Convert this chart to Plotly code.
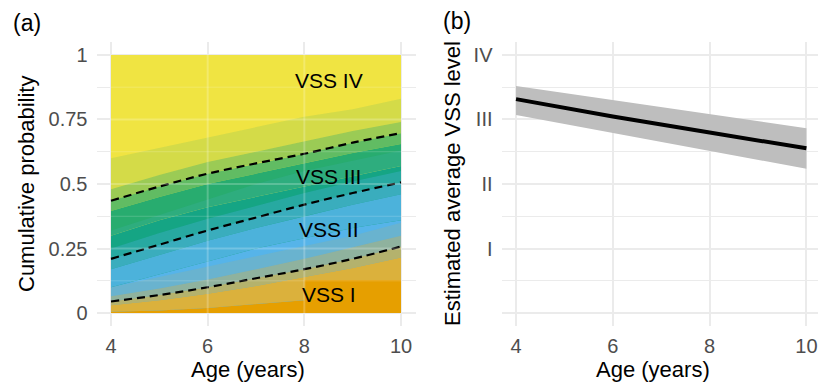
import plotly.graph_objects as go

# ---------------- data ----------------
AGES = [4, 5, 6, 7, 8, 9, 10]

# boundary VSS I | VSS II (cumulative probability), posterior spread
B1_LO = [0.005, 0.01, 0.02, 0.035, 0.05, 0.07, 0.10]
B1_Q25 = [0.03, 0.05, 0.075, 0.105, 0.14, 0.175, 0.215]
B1_MED = [0.045, 0.07, 0.10, 0.135, 0.17, 0.21, 0.258]
B1_Q75 = [0.065, 0.095, 0.13, 0.17, 0.21, 0.255, 0.30]
B1_HI = [0.10, 0.14, 0.18, 0.22, 0.26, 0.30, 0.35]

# boundary VSS II | VSS III
B2_LO = [0.10, 0.15, 0.20, 0.25, 0.29, 0.33, 0.36]
B2_Q25 = [0.17, 0.225, 0.28, 0.33, 0.375, 0.42, 0.46]
B2_MED = [0.21, 0.265, 0.32, 0.37, 0.42, 0.465, 0.506]
B2_Q75 = [0.25, 0.31, 0.365, 0.415, 0.465, 0.51, 0.55]
B2_HI = [0.32, 0.38, 0.44, 0.50, 0.55, 0.59, 0.63]

# boundary VSS III | VSS IV
B3_LO = [0.30, 0.36, 0.41, 0.45, 0.49, 0.53, 0.57]
B3_Q25 = [0.395, 0.45, 0.50, 0.54, 0.58, 0.62, 0.655]
B3_MED = [0.435, 0.49, 0.54, 0.58, 0.617, 0.66, 0.697]
B3_Q75 = [0.48, 0.535, 0.585, 0.625, 0.665, 0.705, 0.74]
B3_HI = [0.60, 0.64, 0.68, 0.72, 0.76, 0.79, 0.83]

# VSS I highlighted block
BLOCK_X = [8, 10]
BLOCK_TOP = 0.128

# category labels in panel (a)
LABEL_TEXT = ["VSS IV", "VSS III", "VSS II", "VSS I"]
LABEL_X = [8.5, 8.5, 8.5, 8.5]
LABEL_Y = [0.90, 0.528, 0.323, 0.071]

# panel (b): estimated average VSS level
AGE_B = [4, 6, 8, 10]
AVG_MEAN = [3.315, 3.046, 2.797, 2.553]
AVG_UPPER = [3.52, 3.30, 3.08, 2.864]
AVG_LOWER = [3.07, 2.795, 2.51, 2.236]

# ticks
A_XTICKS = [4, 6, 8, 10]
A_YTICKS = [0, 0.25, 0.5, 0.75, 1]
A_YTICKTEXT = ["0", "0.25", "0.5", "0.75", "1"]
A_YMINOR = [0.125, 0.375, 0.625, 0.875]
B_YTICKS = [0, 1, 2, 3, 4]
B_YTICKTEXT = ["", "I", "II", "III", "IV"]
B_YMINOR = [0.5, 1.5, 2.5, 3.5]

# ---------------- style ----------------
ORANGE = (230, 159, 0)
ORANGE_FUZZ = (238, 176, 34)
BLUE = (86, 180, 233)
GREEN = (12, 163, 118)
YELLOW = (240, 228, 66)
FONT = "Liberation Sans, Arial, sans-serif"
GRID = "#EBEBEB"
TICKC = "#4D4D4D"

def rgba(c, a):
    return f"rgba({c[0]},{c[1]},{c[2]},{a})"

fig = go.Figure()

def band(lower, upper, color, alpha):
    xs = AGES + AGES[::-1]
    ys = list(upper) + list(lower)[::-1]
    fig.add_trace(go.Scatter(x=xs, y=ys, fill="toself", mode="lines",
                             line=dict(width=0), fillcolor=rgba(color, alpha),
                             hoverinfo="skip", showlegend=False,
                             xaxis="x", yaxis="y"))

zeros = [0] * len(AGES)
ones = [1] * len(AGES)

# base: VSS IV
band(zeros, ones, YELLOW, 1)

layers = [
    (GREEN, GREEN, B3_LO, B3_Q25, B3_MED, B3_Q75, B3_HI),
    (BLUE, BLUE, B2_LO, B2_Q25, B2_MED, B2_Q75, B2_HI),
    (ORANGE, ORANGE_FUZZ, B1_LO, B1_Q25, B1_MED, B1_Q75, B1_HI),
]
for col, fz, lo, q25, med, q75, hi in layers:
    band(zeros, lo, col, 1)
    band(lo, q25, fz, 0.875)
    band(q25, med, fz, 0.625)
    band(med, q75, fz, 0.375)
    band(q75, hi, fz, 0.125)

# VSS I block
fig.add_trace(go.Scatter(x=[BLOCK_X[0], BLOCK_X[1], BLOCK_X[1], BLOCK_X[0]],
                         y=[0, 0, BLOCK_TOP, BLOCK_TOP], fill="toself", mode="lines",
                         line=dict(width=0), fillcolor=rgba(ORANGE, 1),
                         hoverinfo="skip", showlegend=False, xaxis="x", yaxis="y"))

# median dashed boundaries
for med in (B1_MED, B2_MED, B3_MED):
    fig.add_trace(go.Scatter(x=AGES, y=med, mode="lines", line_shape="spline",
                             line=dict(color="black", width=2.2, dash="8px,5px"),
                             hoverinfo="skip", showlegend=False, xaxis="x", yaxis="y"))

# panel (b)
fig.add_trace(go.Scatter(x=AGE_B + AGE_B[::-1], y=AVG_UPPER + AVG_LOWER[::-1],
                         fill="toself", mode="lines", line=dict(width=0),
                         fillcolor="#BEBEBE", hoverinfo="skip", showlegend=False,
                         xaxis="x2", yaxis="y2"))
fig.add_trace(go.Scatter(x=AGE_B, y=AVG_MEAN, mode="lines",
                         line=dict(color="black", width=4),
                         hoverinfo="skip", showlegend=False, xaxis="x2", yaxis="y2"))

# faint gridlines showing through the coloured area
shapes = []
for v in A_XTICKS[1:-1]:
    shapes.append(dict(type="line", xref="x", yref="y", x0=v, x1=v, y0=0, y1=1,
                       line=dict(color="rgba(255,255,255,0.22)", width=2), layer="above"))
for v in A_YTICKS[1:-1]:
    shapes.append(dict(type="line", xref="x", yref="y", x0=AGES[0], x1=AGES[-1], y0=v, y1=v,
                       line=dict(color="rgba(255,255,255,0.22)", width=2), layer="above"))
for v in A_YMINOR:
    shapes.append(dict(type="line", xref="x", yref="y", x0=AGES[0], x1=AGES[-1], y0=v, y1=v,
                       line=dict(color="rgba(255,255,255,0.18)", width=1), layer="above"))

W, H = 818, 382
YDOM = [(H - 326) / H, (H - 42) / H]

common_x = dict(showgrid=True, gridcolor=GRID, gridwidth=2, zeroline=False,
                showline=False, ticks="", tickfont=dict(family=FONT, size=20, color=TICKC),
                ticklabelstandoff=6)
common_y = dict(showgrid=True, gridcolor=GRID, gridwidth=2, zeroline=False,
                showline=False, ticks="", tickfont=dict(family=FONT, size=20, color=TICKC),
                ticklabelstandoff=8)

annotations = []
for t, x, y in zip(LABEL_TEXT, LABEL_X, LABEL_Y):
    annotations.append(dict(text=t, x=x, y=y, xref="x", yref="y", showarrow=False,
                            font=dict(family=FONT, size=21, color="black")))

def paper_ann(text, px, py, size, angle=0, xanchor="center"):
    annotations.append(dict(text=text, x=px / W, y=1 - py / H, xref="paper", yref="paper",
                            showarrow=False, textangle=angle, xanchor=xanchor, yanchor="middle",
                            font=dict(family=FONT, size=size, color="black")))

paper_ann("(a)", 11, 23, 23, xanchor="left")
paper_ann("(b)", 441, 21, 23, xanchor="left")
paper_ann("Cumulative probability", 26, 184, 22, angle=-90)
paper_ann("Estimated average VSS level", 452, 184, 22, angle=-90)
paper_ann("Age (years)", 248, 369, 22)
paper_ann("Age (years)", 653, 369, 22)

fig.update_layout(
    width=W, height=H, autosize=False,
    margin=dict(l=0, r=0, t=0, b=0, pad=0),
    paper_bgcolor="white", plot_bgcolor="white",
    font=dict(family=FONT),
    xaxis=dict(domain=[96.5 / W, 415.5 / W], range=[3.7, 10.3], tickvals=A_XTICKS,
               anchor="y", **common_x),
    yaxis=dict(domain=YDOM, range=[-0.05, 1.05], tickvals=A_YTICKS, ticktext=A_YTICKTEXT,
               minor=dict(tickvals=A_YMINOR, showgrid=True, gridcolor=GRID, gridwidth=1),
               anchor="x", **common_y),
    xaxis2=dict(domain=[501.5 / W, 1.0], range=[3.7, 3.7 + (W - 501.5) / 48.4],
                tickvals=A_XTICKS, anchor="y2", **common_x),
    yaxis2=dict(domain=YDOM, range=[-0.2, 4.2], tickvals=B_YTICKS, ticktext=B_YTICKTEXT,
                minor=dict(tickvals=B_YMINOR, showgrid=True, gridcolor=GRID, gridwidth=1),
                anchor="x2", **common_y),
    shapes=shapes,
    annotations=annotations,
    showlegend=False,
)

fig.write_html(
    "out.html",
    config={"displayModeBar": False},
    post_script="document.body.style.margin='0px';document.body.style.overflow='hidden';",
)
